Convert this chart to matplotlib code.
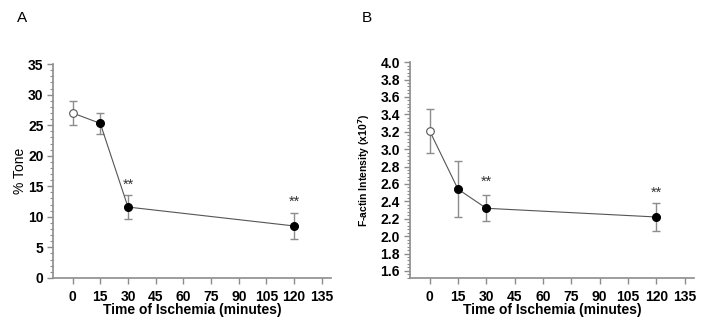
import matplotlib
matplotlib.use("Agg")
import matplotlib.pyplot as plt
from matplotlib.ticker import MultipleLocator

# ── Data ──────────────────────────────────────────────────────────────────────
minutes = [0, 15, 30, 120]

tone = [27.0, 25.3, 11.6, 8.5]
tone_err = [2.0, 1.75, 2.0, 2.2]

factin = [3.21, 2.54, 2.32, 2.22]
factin_err = [0.25, 0.32, 0.15, 0.16]

sig_minutes = [30, 120]
tone_sig_y = [15.2, 12.4]
factin_sig_y = [2.63, 2.50]

xticks = [0, 15, 30, 45, 60, 75, 90, 105, 120, 135]

plt.rcParams["font.family"] = ["Liberation Sans", "DejaVu Sans"]

GREY = "#8c8c8c"


def draw_panel(ax, y, yerr, sig_y, ylim, ymajor, yminor, ylabel, ylabel_size,
               ylabel_pad, ylabel_weight, fmt):
    ax.errorbar(minutes, y, yerr=yerr, fmt="none", ecolor=GREY, elinewidth=1.0,
                capsize=3, capthick=1.0, zorder=2)
    ax.plot(minutes, y, color="#555555", linewidth=0.8, zorder=3)
    ax.plot(minutes[1:], y[1:], "o", color="black", markersize=5.5, zorder=4)
    ax.plot(minutes[:1], y[:1], "o", mfc="white", mec="#555555",
            markersize=5.5, mew=0.8, zorder=4)
    for xs, ys in zip(sig_minutes, sig_y):
        ax.text(xs, ys, "**", ha="center", va="center", fontsize=10.5,
                color="#333333")

    ax.set_xlim(-10.5, 140)
    ax.set_ylim(*ylim)
    ax.set_xticks(xticks)
    ax.yaxis.set_major_locator(MultipleLocator(ymajor))
    ax.yaxis.set_minor_locator(MultipleLocator(yminor))
    ax.yaxis.set_major_formatter(plt.FormatStrFormatter(fmt))

    for side in ("top", "right"):
        ax.spines[side].set_visible(False)
    for side in ("left", "bottom"):
        ax.spines[side].set_color(GREY)
        ax.spines[side].set_linewidth(1.2)

    ax.tick_params(axis="both", which="major", color=GREY, length=4, width=1,
                   labelsize=10, pad=3)
    ax.tick_params(axis="y", which="minor", color=GREY, length=2.5, width=0.8)
    ax.tick_params(axis="x", pad=5)
    for lab in ax.get_xticklabels() + ax.get_yticklabels():
        lab.set_fontweight("bold")

    ax.set_xlabel("Time of Ischemia (minutes)", fontsize=10, fontweight="bold",
                  labelpad=-1)
    ax.set_ylabel(ylabel, fontsize=ylabel_size, labelpad=ylabel_pad,
                  fontweight=ylabel_weight)


fig = plt.figure(figsize=(7.09, 3.34), dpi=100)
ax_a = fig.add_axes([0.075, 0.168, 0.392, 0.640])
ax_b = fig.add_axes([0.578, 0.168, 0.401, 0.646])

draw_panel(ax_a, tone, tone_err, tone_sig_y, (0, 35), 5, 1,
           "% Tone", 10, 1, "normal", "%d")
draw_panel(ax_b, factin, factin_err, factin_sig_y, (1.52, 4.0), 0.2, 0.04,
           "F-actin Intensity (x10$^\\mathbf{7}$)", 7.5, 6, "bold", "%.1f")

fig.text(0.031, 0.945, "A", fontsize=11, ha="center", va="center")
fig.text(0.518, 0.945, "B", fontsize=11, ha="center", va="center")

fig.savefig("out.png", dpi=100)
